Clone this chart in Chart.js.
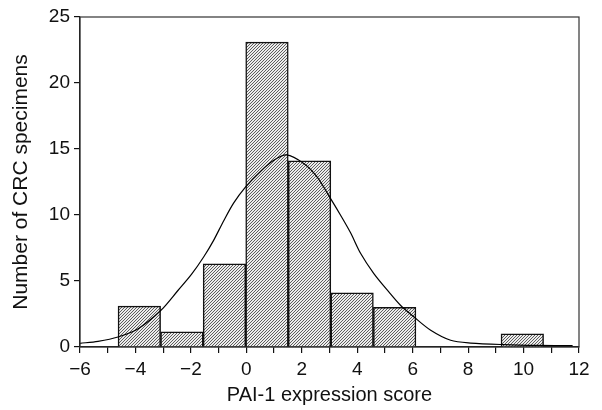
<!DOCTYPE html>
<html>
<head>
<meta charset="utf-8">
<script src="https://cdn.jsdelivr.net/npm/chart.js@4"></script>
<style>
  html, body { margin: 0; padding: 0; background: #fff; }
  #wrap { width: 602px; height: 410px; }
</style>
</head>
<body>
<div id="wrap"><canvas id="chart"></canvas></div>
<script>
// histogram bins (centres) and counts
var binCentres = [-3.86, -2.325, -0.79, 0.745, 2.28, 3.815, 5.35, 6.885, 8.42, 9.955];
var binCounts = [3.1, 1.15, 6.3, 23.1, 14.1, 4.1, 3.0, 0, 0, 1.0];

// fitted normal curve
var curveX = [-6.0, -5.35, -4.63, -3.9, -3.08, -2.46, -1.98, -1.54, -1.18, -0.82, -0.46, -0.04,
  0.51, 0.99, 1.45, 2.07, 2.55, 3.04, 3.4, 3.76, 4.12, 4.6, 5.14, 5.56, 6.05, 6.65, 7.37,
  8.09, 9.3, 10.5, 11.77];
var curveY = [0.28, 0.43, 0.76, 1.39, 2.78, 4.3, 5.5, 6.82, 8.08, 9.55, 10.9, 12.1,
  13.3, 14.14, 14.55, 13.9, 12.88, 11.24, 9.98, 8.65, 7.1, 5.56, 4.17, 3.16, 2.27, 1.27, 0.51,
  0.3, 0.18, 0.12, 0.1];

var xTicks = [-6, -4, -2, 0, 2, 4, 6, 8, 10, 12];
var yTicks = [0, 5, 10, 15, 20, 25];

// hatch fill for the bars (fine /// lines)
function makeHatch() {
  var c = document.createElement("canvas");
  c.width = 3;
  c.height = 3;
  var g = c.getContext("2d");
  g.fillStyle = "#ececec";
  g.fillRect(0, 0, 3, 3);
  g.strokeStyle = "#3a3a3a";
  g.lineWidth = 0.8;
  g.beginPath();
  g.moveTo(0, 3); g.lineTo(3, 0);
  g.moveTo(-1, 1); g.lineTo(1, -1);
  g.moveTo(2, 4); g.lineTo(4, 2);
  g.stroke();
  return g.createPattern(c, "repeat");
}

// box round the plot area
var frame = {
  id: "frame",
  afterDraw: function (chart) {
    var a = chart.chartArea;
    var ctx = chart.ctx;
    ctx.save();
    ctx.strokeStyle = "#333";
    ctx.lineWidth = 1.2;
    ctx.strokeRect(a.left, a.top, a.right - a.left, a.bottom - a.top);
    ctx.restore();
  },
};

var tickFont = { family: "'Liberation Sans', Arial, sans-serif", size: 19 };
var titleFont = { family: "'Liberation Sans', Arial, sans-serif", size: 20 };

new Chart(document.getElementById("chart"), {
  type: "bar",
  data: {
    datasets: [
      {
        type: "line",
        data: curveX.map(function (x, i) { return { x: x, y: curveY[i] }; }),
        borderColor: "#000",
        borderWidth: 1.2,
        pointRadius: 0,
        tension: 0.3,
        order: 0,
      },
      {
        type: "bar",
        data: binCentres.map(function (x, i) { return { x: x, y: binCounts[i] }; }),
        backgroundColor: makeHatch(),
        borderColor: "#111",
        borderWidth: 1.5,
        barThickness: "flex",
        barPercentage: 1,
        categoryPercentage: 1,
        order: 1,
      },
    ],
  },
  options: {
    responsive: true,
    maintainAspectRatio: false,
    animation: false,
    layout: { padding: { top: 17, right: 23, left: 2, bottom: 2 } },
    plugins: { legend: { display: false }, tooltip: { enabled: false } },
    scales: {
      x: {
        type: "linear",
        min: -6,
        max: 12,
        offset: false,
        afterFit: function (scale) { scale.height = 61; },
        border: { color: "#111", width: 1.2 },
        grid: { offset: false, drawOnChartArea: false, color: "#111", tickLength: 6, lineWidth: 1.2 },
        afterBuildTicks: function (scale) {
          var t = [];
          for (var v = -6; v <= 12; v++) t.push({ value: v });
          scale.ticks = t;
        },
        ticks: {
          autoSkip: false,
          maxRotation: 0,
          color: "#111",
          font: tickFont,
          padding: 5,
          callback: function (v) {
            return xTicks.indexOf(v) >= 0 ? (v < 0 ? "\u2212" + Math.abs(v) : String(v)) : "";
          },
        },
        title: { display: true, text: "PAI-1 expression score", color: "#111", font: titleFont, padding: { top: 0, bottom: 1 } },
      },
      y: {
        min: 0,
        max: 25,
        afterFit: function (scale) { scale.width = 78; },
        border: { color: "#111", width: 1.2 },
        grid: { drawOnChartArea: false, color: "#111", tickLength: 6, lineWidth: 1.2 },
        afterBuildTicks: function (scale) {
          scale.ticks = yTicks.map(function (v) { return { value: v }; });
        },
        ticks: { color: "#111", font: tickFont, padding: 4 },
        title: {
          display: true,
          text: "Number of CRC specimens",
          color: "#111",
          font: { family: titleFont.family, size: 21 },
          padding: { top: 7, bottom: 0 },
        },
      },
    },
  },
  plugins: [frame],
});
</script>
</body>
</html>
